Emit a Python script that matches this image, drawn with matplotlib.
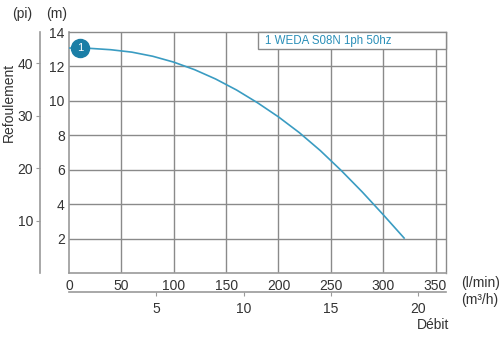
import numpy as np
import matplotlib.pyplot as plt

plt.rcParams['font.family'] = ['Liberation Sans', 'DejaVu Sans']

# Courbe de pompe : débit (l/min) / hauteur (m)
debit_lmin = [0, 20, 40, 60, 80, 100, 120, 140, 160, 180, 200, 220, 240, 260, 280, 300, 320]
hauteur_m = [13.07, 13.05, 12.97, 12.83, 12.59, 12.25, 11.81, 11.27, 10.63, 9.89,
             9.07, 8.15, 7.11, 5.95, 4.71, 3.39, 2.03]
point_debit = 10.5
point_hauteur = 13.07
nom_pompe = "1 WEDA S08N 1ph 50hz"

x_ticks = [0, 50, 100, 150, 200, 250, 300, 350]
y_ticks = [2, 4, 6, 8, 10, 12, 14]
pi_ticks = [10, 20, 30, 40]
m3h_ticks = [5, 10, 15, 20]

TXT = '#333333'
GRID = '#8a8a8a'
AXE = '#9a9a9a'
BLEU = '#3a9cc2'
BLEU_F = '#1a7ea6'

W, H = 499, 337
fig = plt.figure(figsize=(W / 100, H / 100), dpi=100)
x0, x1, y0, y1 = 69, 446, 32, 273
ax = fig.add_axes([x0 / W, 1 - y1 / H, (x1 - x0) / W, (y1 - y0) / H])
ax.set_xlim(0, 360)
ax.set_ylim(0, 14)

for v in x_ticks[1:]:
    ax.axvline(v, color=GRID, lw=1.0, zorder=1)
for v in y_ticks[:-1]:
    ax.axhline(v, color=GRID, lw=1.0, zorder=1)

for s in ['top', 'right']:
    ax.spines[s].set_color(GRID)
    ax.spines[s].set_linewidth(1.0)
for s in ['left', 'bottom']:
    ax.spines[s].set_color(AXE)
    ax.spines[s].set_linewidth(1.2)

ax.set_xticks(x_ticks)
ax.set_yticks(y_ticks)
ax.tick_params(axis='x', length=0, pad=4, labelsize=10, labelcolor=TXT)
ax.tick_params(axis='y', length=0, pad=3, labelsize=10, labelcolor=TXT)

ax.plot(debit_lmin, hauteur_m, color=BLEU, lw=1.2, zorder=3)
ax.plot([point_debit], [point_hauteur], 'o', ms=13, color=BLEU_F, zorder=4)
ax.text(point_debit, point_hauteur, '1', color='white', fontsize=8,
        ha='center', va='center', zorder=5)

# cadre de la légende
leg = plt.Rectangle((180.5, 13.0), 179.5, 1.0, facecolor='white', edgecolor=GRID,
                    lw=1.0, zorder=5, clip_on=False)
ax.add_patch(leg)
ax.text(187.5, 13.47, nom_pompe, color='#2a8fb8', fontsize=8.3,
        ha='left', va='center', zorder=6)

# axe secondaire en pieds
pi = ax.secondary_yaxis((40 - x0) / (x1 - x0),
                        functions=(lambda m: m * 3.2808, lambda f: f / 3.2808))
pi.set_yticks(pi_ticks)
pi.spines['left'].set_color(AXE)
pi.spines['left'].set_linewidth(1.2)
pi.tick_params(length=3, color=AXE, pad=2, labelsize=10, labelcolor=TXT)

# axe secondaire en m3/h
m3 = ax.secondary_xaxis(-(292 - y1) / (y1 - y0),
                        functions=(lambda q: q * 0.06, lambda m: m / 0.06))
m3.set_xticks(m3h_ticks)
m3.spines['bottom'].set_color(AXE)
m3.spines['bottom'].set_linewidth(1.2)
m3.tick_params(length=3, color=AXE, pad=4, labelsize=10, labelcolor=TXT)

fig.text(22 / W, 1 - 14 / H, '(pi)', fontsize=10, color=TXT, ha='center', va='center')
fig.text(57 / W, 1 - 14 / H, '(m)', fontsize=10, color=TXT, ha='center', va='center')
fig.text(9 / W, 1 - 102 / H, 'Refoulement', fontsize=10, color=TXT, rotation=90,
         ha='center', va='center')
fig.text(461 / W, 1 - 283 / H, '(l/min)', fontsize=10, color=TXT, ha='left', va='center')
fig.text(461 / W, 1 - 300 / H, '(m³/h)', fontsize=10, color=TXT, ha='left', va='center')
fig.text(433 / W, 1 - 325 / H, 'Débit', fontsize=10, color=TXT, ha='center', va='center')

fig.savefig('out.png', dpi=100)
